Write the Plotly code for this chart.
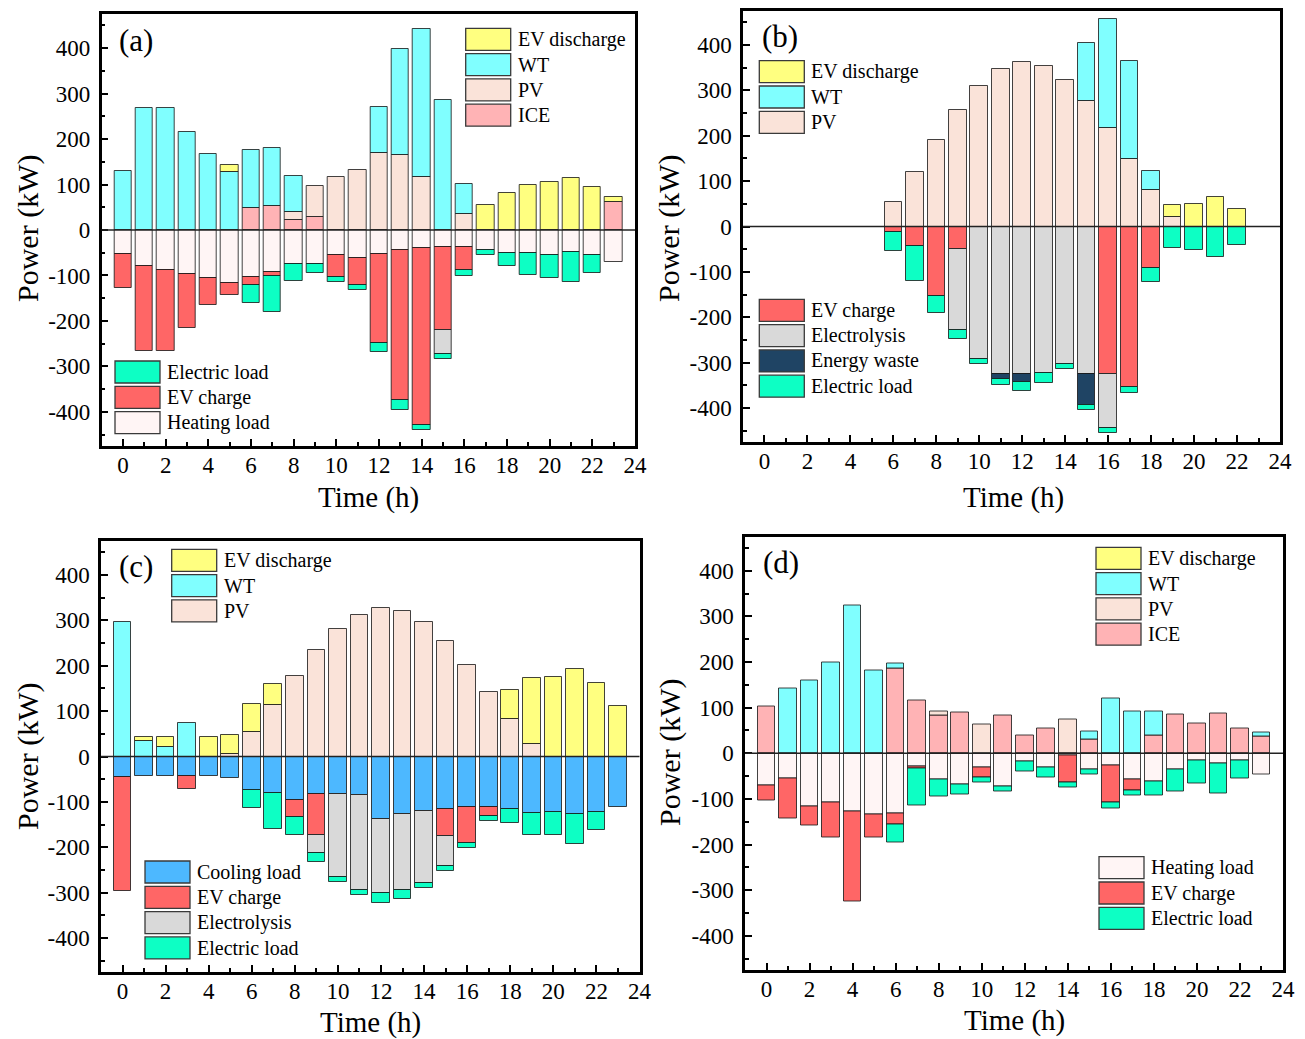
import plotly.graph_objects as go
from plotly.subplots import make_subplots

hours = list(range(24))

# ---------------- (a) ----------------
ICE_a  = [0, 0, 0, 0, 0, 0, 49, 52, 23, 29, 0, 0, 0, 0, 0, 0, 0, 0, 0, 0, 0, 0, 0, 62]
PV_a   = [0, 0, 0, 0, 0, 0, 0, 0, 17, 67, 117, 133, 170, 165, 117, 0, 36, 0, 0, 0, 0, 0, 0, 0]
WT_a   = [130, 269, 269, 216, 167, 128, 128, 128, 78, 0, 0, 0, 100, 233, 325, 286, 66, 0, 0, 0, 0, 0, 0, 0]
EVD_a  = [0, 0, 0, 0, 0, 16, 0, 0, 0, 0, 0, 0, 0, 0, 0, 0, 0, 56, 81, 100, 106, 115, 95, 10]
HEAT_a = [-53, -79, -87, -96, -106, -116, -103, -92, -74, -74, -56, -61, -52, -45, -40, -37, -37, -43, -50, -51, -54, -48, -54, -70]
EVC_a  = [-74, -188, -180, -119, -60, -27, -17, -10, 0, 0, -48, -59, -196, -329, -389, -183, -52, 0, 0, 0, 0, 0, 0, 0]
ELY_a  = [0, 0, 0, 0, 0, 0, 0, 0, 0, 0, 0, 0, 0, 0, 0, -52, 0, 0, 0, 0, 0, 0, 0, 0]
ELD_a  = [0, 0, 0, 0, 0, 0, -40, -78, -38, -21, -11, -11, -20, -21, -10, -12, -12, -11, -30, -48, -51, -66, -40, 0]

# ---------------- (b) ----------------
PV_b    = [0, 0, 0, 0, 0, 0, 53, 120, 190, 256, 310, 348, 362, 353, 322, 276, 217, 149, 81, 21, 0, 0, 0, 0]
WT_b    = [0, 0, 0, 0, 0, 0, 0, 0, 0, 0, 0, 0, 0, 0, 0, 128, 241, 216, 41, 0, 0, 0, 0, 0]
EVD_b   = [0, 0, 0, 0, 0, 0, 0, 0, 0, 0, 0, 0, 0, 0, 0, 0, 0, 0, 0, 27, 50, 66, 39, 0]
EVC_b   = [0, 0, 0, 0, 0, 0, -12, -43, -153, -49, 0, 0, 0, 0, 0, 0, -326, -354, -92, 0, 0, 0, 0, 0]
ELY_b   = [0, 0, 0, 0, 0, 0, 0, 0, 0, -180, -291, -326, -326, -322, -302, -326, -118, 0, 0, 0, 0, 0, 0, 0]
WASTE_b = [0, 0, 0, 0, 0, 0, 0, 0, 0, 0, 0, -11, -16, 0, 0, -67, 0, 0, 0, 0, 0, 0, 0, 0]
ELD_b   = [0, 0, 0, 0, 0, 0, -41, -78, -37, -20, -11, -12, -21, -22, -11, -11, -11, -12, -31, -48, -52, -67, -40, 0]

# ---------------- (c) ----------------
PV_c   = [0, 0, 0, 0, 0, 5, 54, 114, 177, 235, 282, 313, 327, 321, 296, 255, 202, 142, 82, 27, 0, 0, 0, 0]
WT_c   = [297, 34, 21, 73, 0, 0, 0, 0, 0, 0, 0, 0, 0, 0, 0, 0, 0, 0, 0, 0, 0, 0, 0, 0]
EVD_c  = [0, 10, 22, 0, 42, 42, 61, 45, 0, 0, 0, 0, 0, 0, 0, 0, 0, 0, 65, 147, 175, 193, 161, 112]
COOL_c = [-46, -44, -43, -42, -43, -48, -73, -81, -95, -83, -83, -84, -138, -127, -121, -116, -112, -112, -116, -125, -123, -126, -122, -112]
EVC_c  = [-250, 0, 0, -29, 0, 0, 0, 0, -38, -90, 0, 0, 0, 0, 0, -59, -79, -19, 0, 0, 0, 0, 0, 0]
ELY_c  = [0, 0, 0, 0, 0, 0, 0, 0, 0, -39, -183, -211, -163, -167, -158, -66, 0, 0, 0, 0, 0, 0, 0, 0]
ELD_c  = [0, 0, 0, 0, 0, 0, -40, -79, -41, -21, -10, -11, -21, -21, -11, -11, -10, -11, -31, -48, -51, -66, -39, 0]

# ---------------- (d) ----------------
ICE_d  = [103, 0, 0, 0, 0, 0, 186, 116, 83, 90, 0, 83, 39, 54, 0, 31, 0, 0, 39, 84, 66, 87, 55, 36]
PV_d   = [0, 0, 0, 0, 0, 0, 0, 0, 9, 0, 63, 0, 0, 0, 74, 0, 0, 0, 0, 0, 0, 0, 0, 0]
WT_d   = [0, 143, 159, 199, 324, 182, 11, 0, 0, 0, 0, 0, 0, 0, 0, 17, 121, 92, 53, 0, 0, 0, 0, 10]
HEAT_d = [-71, -56, -116, -107, -128, -135, -133, -28, -57, -68, -31, -72, -18, -31, -4, -36, -27, -57, -62, -35, -15, -22, -15, -46]
EVC_d  = [-33, -86, -43, -77, -196, -49, -23, -6, 0, 0, -22, 0, 0, 0, -60, 0, -82, -25, 0, 0, 0, 0, 0, 0]
ELD_d  = [0, 0, 0, 0, 0, 0, -40, -80, -38, -22, -12, -12, -21, -23, -11, -11, -12, -11, -31, -49, -51, -66, -40, 0]

y_tick_vals = [-400, -300, -200, -100, 0, 100, 200, 300, 400]
y_tick_text = ["-400", "-300", "-200", "-100", "0", "100", "200", "300", "400"]
x_tick_vals = [0, 2, 4, 6, 8, 10, 12, 14, 16, 18, 20, 22, 24]
X_TITLE = "Time (h)"
Y_TITLE = "Power (kW)"

COLORS = {
    "EV discharge": "#FFFF80",
    "WT": "#80FFFF",
    "PV": "#FAE3D9",
    "ICE": "#FFB3B5",
    "Heating load": "#FFF5F5",
    "EV charge": "#FF6666",
    "Electrolysis": "#D9D9D9",
    "Energy waste": "#1F4464",
    "Electric load": "#0DFFC4",
    "Cooling load": "#4DB8FF",
}

# stacking order: positives from zero upward, then negatives from zero downward
PANELS = [
    dict(row=1, col=1, label="(a)",
         series=[("ICE", ICE_a), ("PV", PV_a), ("WT", WT_a), ("EV discharge", EVD_a),
                 ("Heating load", HEAT_a), ("EV charge", EVC_a), ("Electrolysis", ELY_a),
                 ("Electric load", ELD_a)],
         legends=[["EV discharge", "WT", "PV", "ICE"],
                  ["Electric load", "EV charge", "Heating load"]]),
    dict(row=1, col=2, label="(b)",
         series=[("PV", PV_b), ("WT", WT_b), ("EV discharge", EVD_b),
                 ("EV charge", EVC_b), ("Electrolysis", ELY_b), ("Energy waste", WASTE_b),
                 ("Electric load", ELD_b)],
         legends=[["EV discharge", "WT", "PV"],
                  ["EV charge", "Electrolysis", "Energy waste", "Electric load"]]),
    dict(row=2, col=1, label="(c)",
         series=[("PV", PV_c), ("WT", WT_c), ("EV discharge", EVD_c),
                 ("Cooling load", COOL_c), ("EV charge", EVC_c), ("Electrolysis", ELY_c),
                 ("Electric load", ELD_c)],
         legends=[["EV discharge", "WT", "PV"],
                  ["Cooling load", "EV charge", "Electrolysis", "Electric load"]]),
    dict(row=2, col=2, label="(d)",
         series=[("ICE", ICE_d), ("PV", PV_d), ("WT", WT_d),
                 ("Heating load", HEAT_d), ("EV charge", EVC_d), ("Electric load", ELD_d)],
         legends=[["EV discharge", "WT", "PV", "ICE"],
                  ["Heating load", "EV charge", "Electric load"]]),
]

# ---- page geometry (pixels) ----
W, H = 1305, 1039
FONT = "Liberation Serif, Times New Roman, serif"
PLOT_BOX = [
    ((101.7, 635.0), (14.0, 446.0)),
    ((743.0, 1280.0), (11.0, 442.0)),
    ((101.0, 639.5), (541.0, 972.0)),
    ((745.0, 1283.0), (536.5, 970.0)),
]
LABEL_POS = [(117, 41), (760, 37), (117, 566), (761, 562)]
Y_TITLE_POS = [(28, 229), (669, 228), (28, 757), (670, 753)]
X_TITLE_POS = [(368, 497), (1013, 497), (370, 1022), (1014, 1020)]
LEGEND_POS = [
    [(465.7, 28.3), (115.0, 361.0)],
    [(759.3, 60.7), (759.3, 299.3)],
    [(171.7, 549.3), (145.0, 861.0)],
    [(1096.0, 547.3), (1099.0, 856.7)],
]
SW_W, SW_H, ROW_STEP = 45, 22, 25.3


def fx(px):
    return px / W


def fy(py):
    return 1 - py / H


fig = make_subplots(rows=2, cols=2)

shapes = []
annotations = []
for i, p in enumerate(PANELS):
    for name, vals in p["series"]:
        fig.add_trace(
            go.Bar(
                x=hours,
                y=[v if v != 0 else None for v in vals],
                name=name,
                width=0.82,
                marker=dict(color=COLORS[name],
                            line=dict(color="rgba(20,20,20,0.8)", width=1)),
                showlegend=False,
            ),
            row=p["row"], col=p["col"],
        )

    suffix = "" if i == 0 else str(i + 1)
    (x0, x1), (y0, y1) = PLOT_BOX[i]
    fig.layout["xaxis" + suffix].update(
        domain=[fx(x0), fx(x1)], range=[-1, 24],
        tickmode="array", tickvals=x_tick_vals,
        ticks="inside", ticklen=7, tickwidth=2, tickcolor="black",
        minor=dict(ticks="inside", ticklen=4, tickwidth=2, tickcolor="black",
                   tickmode="linear", tick0=1, dtick=2),
        showline=True, linewidth=2.5, linecolor="black", mirror=True,
        showgrid=False, zeroline=False, automargin=False,
        ticklabelstandoff=-3,
        tickfont=dict(family=FONT, size=23, color="black"),
    )
    fig.layout["yaxis" + suffix].update(
        domain=[fy(y1), fy(y0)], range=[-475, 475],
        tickmode="array", tickvals=y_tick_vals, ticktext=y_tick_text,
        ticks="inside", ticklen=7, tickwidth=2, tickcolor="black",
        minor=dict(ticks="inside", ticklen=4, tickwidth=2, tickcolor="black",
                   tickmode="linear", tick0=50, dtick=100),
        showline=True, linewidth=2.5, linecolor="black", mirror=True,
        showgrid=False, zeroline=False, automargin=False,
        ticklabelstandoff=4,
        tickfont=dict(family=FONT, size=23, color="black"),
    )

    # axis titles
    tx, ty = X_TITLE_POS[i]
    annotations.append(dict(text=X_TITLE, xref="paper", yref="paper",
                            x=fx(tx), y=fy(ty), xanchor="center", yanchor="middle",
                            showarrow=False,
                            font=dict(family=FONT, size=29, color="black")))
    tx, ty = Y_TITLE_POS[i]
    annotations.append(dict(text=Y_TITLE, xref="paper", yref="paper",
                            x=fx(tx), y=fy(ty), xanchor="center", yanchor="middle",
                            textangle=-90, showarrow=False,
                            font=dict(family=FONT, size=30, color="black")))

    # zero reference line
    xa = "x" + suffix
    ya = "y" + suffix
    shapes.append(dict(type="line", xref=xa + " domain", yref=ya,
                       x0=0, x1=1, y0=0, y1=0, layer="above",
                       line=dict(color="#222222", width=1.3)))

    # panel letter
    lx, ly = LABEL_POS[i]
    annotations.append(dict(text=p["label"], xref="paper", yref="paper",
                            x=fx(lx), y=fy(ly), xanchor="left", yanchor="middle",
                            showarrow=False,
                            font=dict(family=FONT, size=31, color="black")))

    # legend blocks
    for items, (lx0, ly0) in zip(p["legends"], LEGEND_POS[i]):
        for k, name in enumerate(items):
            top = ly0 + k * ROW_STEP
            shapes.append(dict(type="rect", xref="paper", yref="paper",
                               x0=fx(lx0), x1=fx(lx0 + SW_W),
                               y0=fy(top + SW_H), y1=fy(top),
                               fillcolor=COLORS[name], layer="above",
                               line=dict(color="#3a3a3a", width=1.3)))
            annotations.append(dict(text=name, xref="paper", yref="paper",
                                    x=fx(lx0 + SW_W + 5), y=fy(top + SW_H / 2),
                                    xanchor="left", yanchor="middle", showarrow=False,
                                    font=dict(family=FONT, size=20, color="black")))

fig.update_layout(
    width=W, height=H,
    margin=dict(l=0, r=0, t=0, b=0),
    barmode="relative",
    bargap=0,
    paper_bgcolor="white",
    plot_bgcolor="white",
    template="none",
    shapes=shapes,
    annotations=annotations,
    font=dict(family=FONT, color="black"),
)

fig.write_html("out.html")
